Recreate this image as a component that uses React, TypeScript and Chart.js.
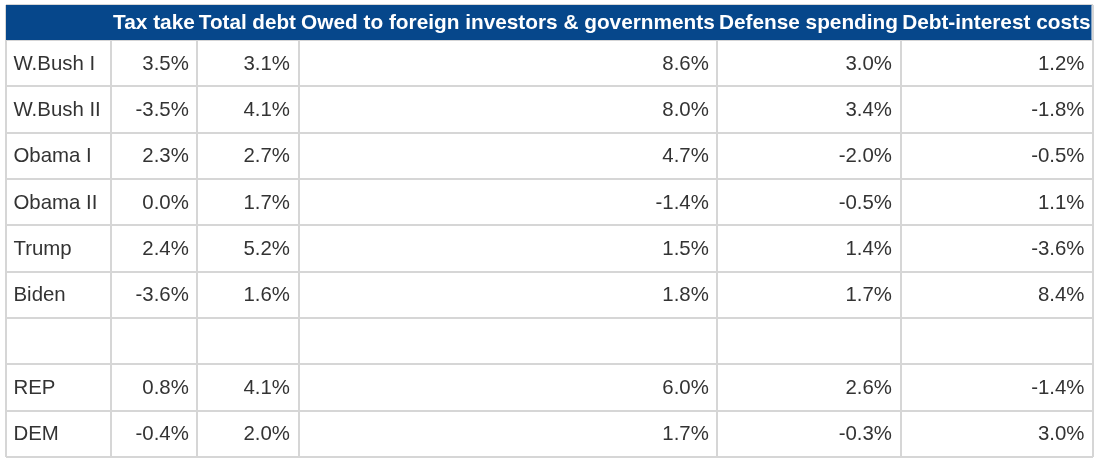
import React, { useEffect, useRef } from "react";
import { Chart, registerables } from "chart.js";

Chart.register(...registerables);

// ---- data ----
const rowLabels = ["W.Bush I", "W.Bush II", "Obama I", "Obama II", "Trump", "Biden", "", "REP", "DEM"];
const columnHeaders = [
  "Tax take",
  "Total debt",
  "Owed to foreign investors & governments",
  "Defense spending",
  "Debt-interest costs",
];
const taxTake = [3.5, -3.5, 2.3, 0.0, 2.4, -3.6, null, 0.8, -0.4];
const totalDebt = [3.1, 4.1, 2.7, 1.7, 5.2, 1.6, null, 4.1, 2.0];
const owedForeign = [8.6, 8.0, 4.7, -1.4, 1.5, 1.8, null, 6.0, 1.7];
const defenseSpending = [3.0, 3.4, -2.0, -0.5, 1.4, 1.7, null, 2.6, -0.3];
const debtInterest = [1.2, -1.8, -0.5, 1.1, -3.6, 8.4, null, -1.4, 3.0];

// ---- layout ----
const COL_WIDTHS = [104.7, 86.6, 101.2, 418.8, 183.2, 192.5];
const HEADER_ROWS = 35 / 46.33;
const HEADER_BG = "#06478b";
const GRID = "#d6d6d6";
const TEXT = "#333333";
const FONT = '"Liberation Sans", Arial, sans-serif';

const bounds: number[] = [0];
COL_WIDTHS.forEach((w) => bounds.push(bounds[bounds.length - 1] + w));
const TOTAL = bounds[bounds.length - 1];

const valueColumns = [taxTake, totalDebt, owedForeign, defenseSpending, debtInterest];

const fmt = (v: number) => v.toFixed(1) + "%";

const tablePlugin = {
  id: "tableText",
  beforeDatasetsDraw(chart: any) {
    const { ctx, scales } = chart;
    const xs = scales.x;
    const ys = scales.y;
    const x0 = xs.getPixelForValue(0);
    const x1 = xs.getPixelForValue(TOTAL) - 1.5;
    const y0 = ys.getPixelForValue(-HEADER_ROWS);
    const y1 = ys.getPixelForValue(0);
    ctx.save();
    ctx.fillStyle = HEADER_BG;
    ctx.fillRect(x0, y0, x1 - x0, y1 - y0);
    ctx.fillStyle = "#ffffff";
    ctx.font = `bold 20.8px ${FONT}`;
    ctx.textAlign = "right";
    ctx.textBaseline = "alphabetic";
    const hy = (y0 + y1) / 2 + 6.5;
    columnHeaders.forEach((h, j) => {
      const xr = xs.getPixelForValue(bounds[j + 2]) - 2.5;
      const left = xs.getPixelForValue(bounds[j + 1]) + 1.5;
      ctx.fillText(h, xr, hy, xr - left);
    });
    ctx.restore();
  },
  afterDatasetsDraw(chart: any) {
    const { ctx } = chart;
    ctx.save();
    ctx.fillStyle = TEXT;
    ctx.font = `20.4px ${FONT}`;
    ctx.textBaseline = "alphabetic";
    chart.data.datasets.forEach((ds: any, i: number) => {
      const meta = chart.getDatasetMeta(i);
      meta.data.forEach((el: any, k: number) => {
        const raw = ds.data[k];
        if (!raw || raw.text === "") return;
        if (ds.isLabel) {
          ctx.textAlign = "left";
          ctx.fillText(raw.text, el.x + 7.5, el.y + 6.5);
        } else {
          ctx.textAlign = "right";
          ctx.fillText(raw.text, el.x - 8.5, el.y + 6.5);
        }
      });
    });
    ctx.restore();
  },
};

export default function App() {
  const ref = useRef<HTMLCanvasElement | null>(null);
  useEffect(() => {
    if (!ref.current) return;
    const datasets: any[] = [
      {
        label: "Period",
        isLabel: true,
        data: rowLabels.map((t, i) => ({ x: bounds[0], y: i + 0.5, text: t })),
        pointRadius: 0,
        showLine: false,
      },
      ...valueColumns.map((col, j) => ({
        label: columnHeaders[j],
        isLabel: false,
        data: col
          .map((v, i) => (v === null ? null : { x: bounds[j + 2], y: i + 0.5, text: fmt(v as number) }))
          .filter((d) => d !== null),
        pointRadius: 0,
        showLine: false,
      })),
    ];
    const chart = new Chart(ref.current, {
      type: "scatter",
      data: { datasets },
      options: {
        animation: false,
        responsive: false,
        events: [],
        layout: { padding: { left: 6, right: 7, top: 5, bottom: 8 } },
        plugins: { legend: { display: false }, tooltip: { enabled: false } },
        scales: {
          x: {
            type: "linear",
            min: 0,
            max: TOTAL,
            ticks: { display: false },
            border: { display: false },
            grid: { color: GRID, lineWidth: 2, drawTicks: false },
            afterBuildTicks: (s: any) => {
              s.ticks = bounds.map((v) => ({ value: v }));
            },
          },
          y: {
            type: "linear",
            reverse: true,
            min: -HEADER_ROWS,
            max: rowLabels.length,
            ticks: { display: false },
            border: { display: false },
            grid: { color: GRID, lineWidth: 2, drawTicks: false },
            afterBuildTicks: (s: any) => {
              const t = [{ value: -HEADER_ROWS }];
              for (let i = 0; i <= rowLabels.length; i++) t.push({ value: i });
              s.ticks = t;
            },
          },
        },
      } as any,
      plugins: [tablePlugin],
    });
    return () => chart.destroy();
  }, []);
  return (
    <div style={{ position: "fixed", left: 0, top: 0, width: 1100, height: 465, background: "#fff" }}>
      <canvas ref={ref} width={1100} height={465} style={{ display: "block" }} />
    </div>
  );
}
